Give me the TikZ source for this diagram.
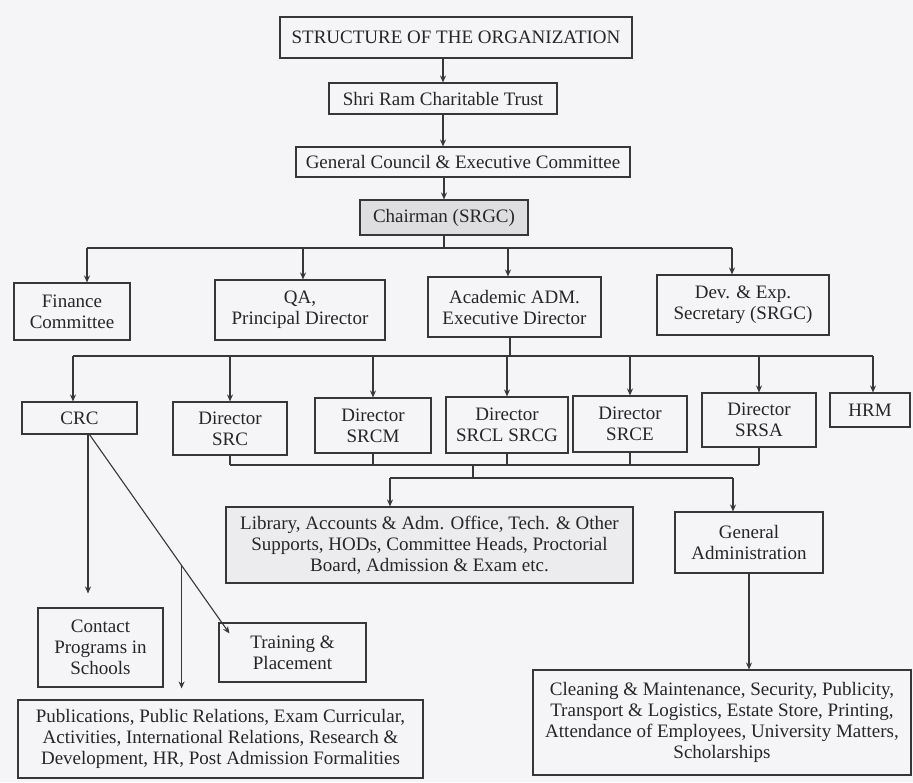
\documentclass[tikz,border=0pt]{standalone}
\usepackage{fontspec}
\setmainfont{Liberation Serif}
\usetikzlibrary{arrows.meta,calc}
\definecolor{bg}{RGB}{245,245,247}
\definecolor{ln}{RGB}{55,55,58}
\definecolor{shade}{RGB}{222,222,225}
\definecolor{shadeb}{RGB}{236,236,238}
\begin{document}
\begin{tikzpicture}[x=1pt,y=-1pt,
  box/.style={draw=ln, line width=1.1pt, fill=bg, inner sep=0pt, align=center,
    font=\fontsize{19}{21}\selectfont, text=black!85},
  conn/.style={draw=ln, line width=1.1pt},
  arr/.style={conn, -{Stealth[length=7pt,width=6pt]}}]
\fill[bg] (0,0) rectangle (913,782);
\useasboundingbox (0,0) rectangle (913,782);

% top chain
\node[box, minimum width=352, minimum height=41] (title) at (456,37.5) {STRUCTURE OF THE ORGANIZATION};
\node[box, minimum width=228, minimum height=31] (trust) at (443,98.5) {Shri Ram Charitable Trust};
\node[box, minimum width=334, minimum height=30] (council) at (463,162) {General Council \& Executive Committee};
\node[box, fill=shade, minimum width=168, minimum height=35] (chair) at (444,217.5) {Chairman (SRGC)};

% row 1
\node[box, minimum width=116, minimum height=57] (fin) at (72,311.5) {Finance\\Committee};
\node[box, minimum width=170, minimum height=60] (qa) at (300,310) {QA,\\Principal Director};
\node[box, minimum width=173, minimum height=60] (acad) at (514.5,307) {Academic ADM.\\Executive Director};
\node[box, minimum width=172, minimum height=60] (dev) at (743,305) {Dev. \& Exp.\\Secretary (SRGC)};

% row 2
\node[box, minimum width=115, minimum height=32] (crc) at (79.5,418) {CRC};
\node[box, minimum width=114, minimum height=53] (src) at (230,428.5) {Director\\SRC};
\node[box, minimum width=116, minimum height=55] (srcm) at (373,425.5) {Director\\SRCM};
\node[box, minimum width=122, minimum height=56] (srcl) at (507,425) {Director\\SRCL SRCG};
\node[box, minimum width=114, minimum height=56] (srce) at (630,424) {Director\\SRCE};
\node[box, minimum width=114, minimum height=54] (srsa) at (759,420) {Director\\SRSA};
\node[box, minimum width=80, minimum height=34] (hrm) at (870,410) {HRM};

% lower boxes
\node[box, fill=shadeb, minimum width=407, minimum height=76] (lib) at (429.5,545)
  {Library, Accounts \& Adm. Office, Tech. \& Other\\Supports, HODs, Committee Heads, Proctorial\\Board, Admission \& Exam etc.};
\node[box, minimum width=148, minimum height=61] (ga) at (749,542.5) {General\\Administration};
\node[box, minimum width=378, minimum height=105] (clean) at (722,722.5)
  {Cleaning \& Maintenance, Security, Publicity,\\Transport \& Logistics, Estate Store, Printing,\\Attendance of Employees, University Matters,\\Scholarships};
\node[box, minimum width=125, minimum height=79] (contact) at (100.5,647.5) {Contact\\Programs in\\Schools};
\node[box, minimum width=147, minimum height=59] (train) at (292.5,652.5) {Training \&\\Placement};
\node[box, minimum width=405, minimum height=78] (pub) at (220.5,739)
  {Publications, Public Relations, Exam Curricular,\\Activities, International Relations, Research \&\\Development, HR, Post Admission Formalities};

% top chain connectors
\draw[arr] (title.south -| trust.north) -- (trust.north);
\draw[arr] (trust.south) -- (trust.south |- council.north);
\draw[arr] (chair.north |- council.south) -- (chair.north);

% chairman bus
\coordinate (b1) at (444,248);
\coordinate (fa) at ([xshift=15]fin.north);
\coordinate (qaa) at ([xshift=3]qa.north);
\coordinate (aca) at ([xshift=-6.5]acad.north);
\coordinate (dva) at ([xshift=-11]dev.north);
\draw[conn] (chair.south) -- (chair.south |- b1);
\draw[conn] (fa |- b1) -- (dva |- b1);
\draw[arr] (fa |- b1) -- (fa);
\draw[arr] (qaa |- b1) -- (qaa);
\draw[arr] (aca |- b1) -- (aca);
\draw[arr] (dva |- b1) -- (dva);

% academic bus
\coordinate (b2) at (510,356);
\coordinate (as) at ([xshift=-4.5]acad.south);
\coordinate (ca) at ([xshift=-6.5]crc.north);
\coordinate (ha) at ([xshift=3]hrm.north);
\draw[conn] (as) -- (as |- b2);
\draw[conn] (ca |- b2) -- (ha |- b2);
\foreach \n in {src,srcm,srcl,srce,srsa} {\draw[arr] (\n.north |- b2) -- (\n.north);}
\draw[arr] (ca |- b2) -- (ca);
\draw[arr] (ha |- b2) -- (ha);

% directors lower bus
\coordinate (b3) at (473,465);
\coordinate (b4) at (473,478);
\foreach \n in {src,srcm,srcl,srce,srsa} {\draw[conn] (\n.south) -- (\n.south |- b3);}
\draw[conn] (src.south |- b3) -- (srsa.south |- b3);
\draw[conn] (b3) -- (b4);
\coordinate (la) at ([xshift=-39.5]lib.north);
\coordinate (gaa) at ([xshift=-16]ga.north);
\draw[conn] (la |- b4) -- (gaa |- b4);
\draw[arr] (la |- b4) -- (la);
\draw[arr] (gaa |- b4) -- (gaa);
\draw[arr] (ga.south) -- (ga.south |- clean.north);

% CRC branches
\coordinate (cs) at ([xshift=8.5]crc.south);
\draw[arr, shorten >=14pt] (cs) -- (cs |- contact.north);
\coordinate (ds) at ([xshift=10]crc.south);
\coordinate (dt) at ([shift={(11,11)}]train.north west);
\draw[arr] (ds) -- (dt);
\coordinate (br) at ($(ds)!0.658!(dt)$);
\draw[arr, shorten >=11pt] (br) -- (br |- pub.north);
\end{tikzpicture}
\end{document}
